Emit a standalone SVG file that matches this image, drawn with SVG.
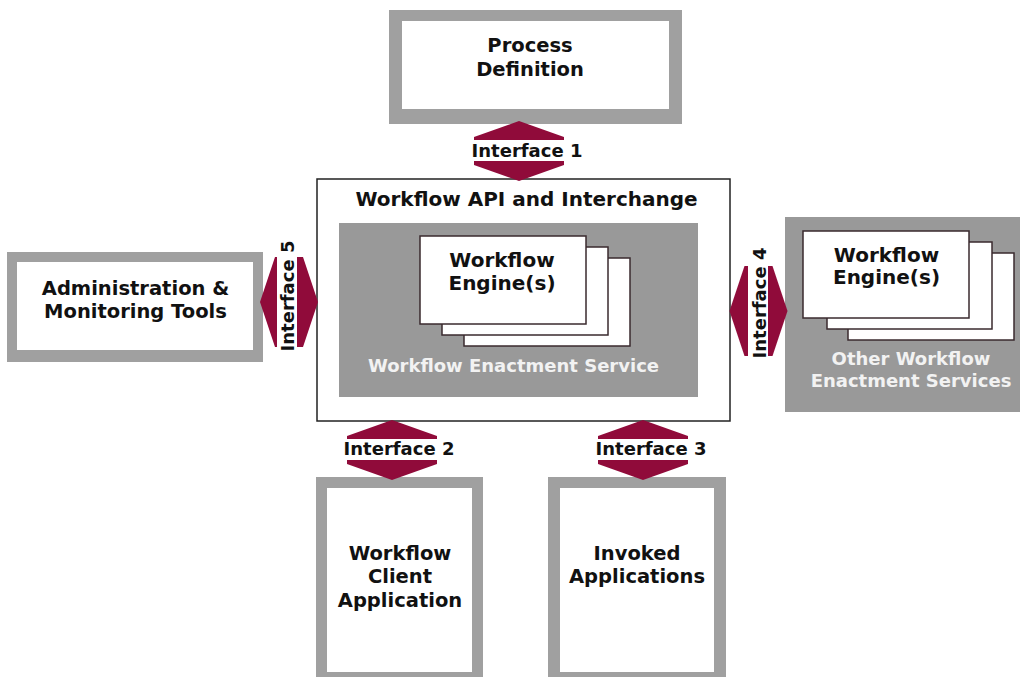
<svg xmlns="http://www.w3.org/2000/svg" xmlns:xlink="http://www.w3.org/1999/xlink" width="1020" height="677" viewBox="0 0 1020 677">
<style>
text{font-family:"DejaVu Sans","Verdana",sans-serif;font-weight:bold;fill:#111;text-anchor:middle}
.lbl{font-size:19.5px}
.big{font-size:20px}
.light{font-size:18px;fill:#f2f2f2}
.ifc{font-size:18px}
.frame{fill:#a0a0a0}
.inner{fill:#fff}
.svc{fill:#999}
.card{fill:#fff;stroke:#3a2a2e;stroke-width:1.5}
.hex{fill:#900b3a}
.band{fill:#fff}
</style>
<defs>
<polygon id="hexH" class="hex" points="0,-30 45,-14 45,14 0,30 -45,14 -45,-14"/>
<polygon id="hexV" class="hex" points="-29,0 -14,-45 14,-45 29,0 14,45 -14,45"/>
</defs>
<rect width="1020" height="677" fill="#fff"/>

<g id="process-definition">
<rect class="frame" x="389" y="10" width="293" height="114"/>
<rect class="inner" x="402" y="21" width="267" height="88"/>
<text class="lbl" x="530" y="52">Process</text>
<text class="lbl" x="530" y="76">Definition</text>
</g>

<g id="admin-tools">
<rect class="frame" x="7" y="252" width="256" height="110"/>
<rect class="inner" x="17" y="262" width="236" height="88"/>
<text class="lbl" x="135.5" y="295">Administration &amp;</text>
<text class="lbl" x="135.5" y="318">Monitoring Tools</text>
</g>

<g id="api-interchange">
<rect x="317" y="179" width="413" height="242" fill="#fff" stroke="#222" stroke-width="1.5"/>
<text class="big" x="526.5" y="206">Workflow API and Interchange</text>
</g>

<g id="enactment-service">
<rect class="svc" x="339" y="223" width="359" height="174"/>
<rect class="card" x="464" y="258" width="166" height="88"/>
<rect class="card" x="442" y="247" width="166" height="88"/>
<rect class="card" x="420" y="236" width="166" height="88"/>
<text class="big" x="502" y="267">Workflow</text>
<text class="big" x="502" y="290">Engine(s)</text>
<text class="light" x="513.5" y="372">Workflow Enactment Service</text>
</g>

<g id="other-enactment">
<rect class="svc" x="785" y="217" width="235" height="195"/>
<rect class="card" x="848" y="253" width="166" height="87"/>
<rect class="card" x="827" y="242" width="165" height="87"/>
<rect class="card" x="803" y="231" width="166" height="87"/>
<text class="big" x="886.5" y="262">Workflow</text>
<text class="big" x="886.5" y="284">Engine(s)</text>
<text class="light" x="911" y="365">Other Workflow</text>
<text class="light" x="911" y="387">Enactment Services</text>
</g>

<g id="client-app">
<rect class="frame" x="316" y="477" width="167" height="200"/>
<rect class="inner" x="327" y="488" width="145" height="184"/>
<text class="lbl" x="400" y="560">Workflow</text>
<text class="lbl" x="400" y="583">Client</text>
<text class="lbl" x="400" y="607">Application</text>
</g>

<g id="invoked-apps">
<rect class="frame" x="548" y="477" width="178" height="200"/>
<rect class="inner" x="560" y="488" width="154" height="184"/>
<text class="lbl" x="637" y="560">Invoked</text>
<text class="lbl" x="637" y="583">Applications</text>
</g>

<g id="connectors">
<g id="interface-1">
<use xlink:href="#hexH" x="519" y="151"/>
<rect class="band" x="474" y="140" width="91" height="21"/>
<text class="ifc" x="527" y="157">Interface 1</text>
</g>
<g id="interface-2">
<use xlink:href="#hexH" x="392" y="450"/>
<rect class="band" x="347" y="439" width="91" height="21"/>
<text class="ifc" x="399" y="455">Interface 2</text>
</g>
<g id="interface-3">
<use xlink:href="#hexH" x="643" y="450"/>
<rect class="band" x="598" y="439" width="91" height="21"/>
<text class="ifc" x="651" y="455">Interface 3</text>
</g>
<g id="interface-5">
<use xlink:href="#hexV" x="289" y="302"/>
<rect class="band" x="277" y="257" width="20" height="90"/>
<text class="ifc" transform="translate(294,296) rotate(-90)">Interface 5</text>
</g>
<g id="interface-4">
<use xlink:href="#hexV" x="758.5" y="311"/>
<rect class="band" x="748" y="266" width="20" height="90"/>
<text class="ifc" transform="translate(766,303) rotate(-90)">Interface 4</text>
</g>
</g>
</svg>
